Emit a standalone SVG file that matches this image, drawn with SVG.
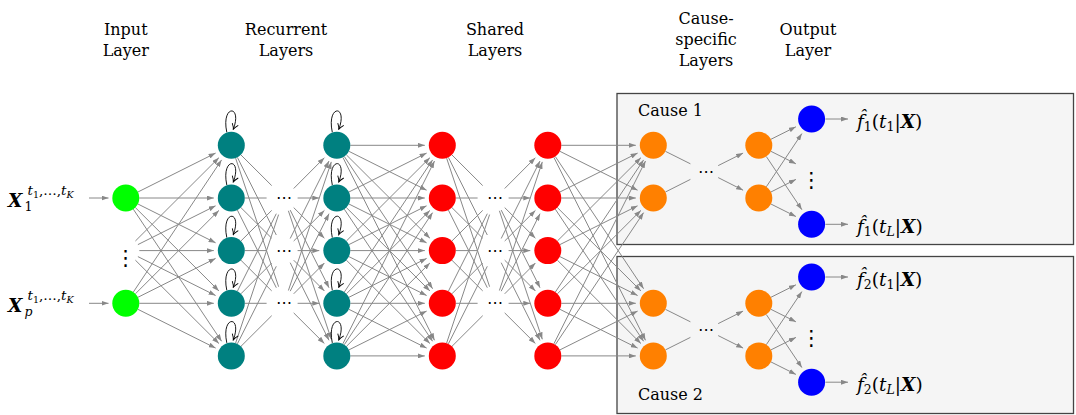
<svg xmlns="http://www.w3.org/2000/svg" width="1076" height="415" viewBox="0 0 1076 415">
<style>
.box{fill:#f5f5f5;stroke:#444;stroke-width:1.3}
.e{stroke:#888;stroke-width:1;fill:none;marker-end:url(#arr)}
.en{stroke:#888;stroke-width:1;fill:none}
.lp{stroke:#000;stroke-width:0.9;fill:none;marker-end:url(#la)}
.in{fill:#00ff00}.rc{fill:#008080}.sh{fill:#ff0000}.cs{fill:#ff8000}.out{fill:#0000ff}
.lbl{font-family:"DejaVu Serif",serif;font-size:16px;fill:#000;text-anchor:middle}
.cl{font-family:"DejaVu Serif",serif;font-size:16px;fill:#000}
.mt{font-family:"DejaVu Serif",serif;font-size:18.5px;fill:#000}
.sm{font-size:12.5px}
.ss{font-size:13.5px}
.xs{font-size:9.5px}
.it{font-style:italic}
.bi{font-style:italic;font-weight:bold}
.dots{font-family:"DejaVu Sans",sans-serif;font-size:16px;fill:#000;text-anchor:middle}
.vd{font-family:"DejaVu Sans",sans-serif;font-size:21px;fill:#000;text-anchor:middle}
</style>
<defs>
<marker id="arr" viewBox="0 0 7 5" refX="7" refY="2.5" markerWidth="7" markerHeight="5" markerUnits="userSpaceOnUse" orient="auto"><path d="M0,0 L7,2.5 L0,5 Z" fill="#888"/></marker>
<marker id="la" viewBox="0 0 8 8" refX="7" refY="4" markerWidth="8" markerHeight="8" markerUnits="userSpaceOnUse" orient="auto"><path d="M1.5,0.8 Q4.5,3.3 7,4 Q4.5,4.7 1.5,7.2" fill="none" stroke="#000" stroke-width="0.9"/></marker>
</defs>

<g id="cause1-box"><rect class="box" x="617" y="93.5" width="456.5" height="151"/><text class="cl" x="638" y="115.5">Cause 1</text></g>
<g id="cause2-box"><rect class="box" x="617" y="256.5" width="456.5" height="157"/><text class="cl" x="638" y="399.5">Cause 2</text></g>

<g id="headers">
<text class="lbl" x="125.8" y="34.5">Input</text><text class="lbl" x="125.8" y="56">Layer</text>
<text class="lbl" x="286" y="34.5">Recurrent</text><text class="lbl" x="286" y="56">Layers</text>
<text class="lbl" x="495" y="34.5">Shared</text><text class="lbl" x="495" y="56">Layers</text>
<text class="lbl" x="706" y="24">Cause-</text><text class="lbl" x="706" y="45">specific</text><text class="lbl" x="706" y="66">Layers</text>
<text class="lbl" x="808" y="34.5">Output</text><text class="lbl" x="808" y="56">Layer</text>
</g>

<g id="connectors">
<!-- input labels to input nodes -->
<line class="e" x1="89" y1="198" x2="108.5" y2="198"/>
<line class="e" x1="89" y1="303.3" x2="108.5" y2="303.3"/>
<!-- input -> recurrent 1 -->
<line class="e" x1="137.9" y1="192" x2="215.6" y2="153.1"/>
<line class="e" x1="139.3" y1="198" x2="213.8" y2="198"/>
<line class="e" x1="137.9" y1="204" x2="215.6" y2="242.8"/>
<line class="e" x1="135.4" y1="207.6" x2="218.9" y2="290.9"/>
<line class="e" x1="133.3" y1="209.2" x2="221.6" y2="341.3"/>
<line class="e" x1="135.4" y1="241" x2="218.9" y2="157.7"/>
<line class="e" x1="137.9" y1="244.6" x2="215.6" y2="205.8"/>
<line class="e" x1="139.3" y1="250.6" x2="213.8" y2="250.6"/>
<line class="e" x1="137.9" y1="256.6" x2="215.6" y2="295.5"/>
<line class="e" x1="135.4" y1="260.2" x2="218.9" y2="343.5"/>
<line class="e" x1="133.3" y1="292.1" x2="221.6" y2="159.9"/>
<line class="e" x1="135.4" y1="293.8" x2="218.9" y2="210.4"/>
<line class="e" x1="137.9" y1="297.3" x2="215.6" y2="258.4"/>
<line class="e" x1="139.3" y1="303.3" x2="213.8" y2="303.3"/>
<line class="e" x1="137.9" y1="309.3" x2="215.6" y2="348.1"/>
<!-- recurrent 1 -> dots -->
<line class="en" x1="240.9" y1="154.9" x2="271.7" y2="185.6"/>
<line class="en" x1="237.4" y1="157.4" x2="276.3" y2="235"/>
<line class="en" x1="235.6" y1="158.1" x2="278.6" y2="286.7"/>
<line class="en" x1="244.8" y1="198" x2="266.6" y2="198"/>
<line class="en" x1="240.9" y1="207.6" x2="271.7" y2="238.2"/>
<line class="en" x1="237.4" y1="210.1" x2="276.3" y2="287.7"/>
<line class="en" x1="240.9" y1="241" x2="271.7" y2="210.4"/>
<line class="en" x1="244.8" y1="250.6" x2="266.6" y2="250.6"/>
<line class="en" x1="240.9" y1="260.2" x2="271.7" y2="290.9"/>
<line class="en" x1="237.4" y1="291.2" x2="276.3" y2="213.7"/>
<line class="en" x1="240.9" y1="293.8" x2="271.7" y2="263"/>
<line class="en" x1="244.8" y1="303.3" x2="266.6" y2="303.3"/>
<line class="en" x1="235.6" y1="343.1" x2="278.6" y2="214.6"/>
<line class="en" x1="237.4" y1="343.8" x2="276.3" y2="266.3"/>
<line class="en" x1="240.9" y1="346.4" x2="271.7" y2="315.7"/>
<!-- dots -> recurrent 2 -->
<line class="e" x1="293.7" y1="188.5" x2="324.4" y2="157.7"/>
<line class="e" x1="297.6" y1="198" x2="319.3" y2="198"/>
<line class="e" x1="293.7" y1="207.6" x2="324.4" y2="238.2"/>
<line class="e" x1="290.2" y1="210.1" x2="329" y2="287.7"/>
<line class="e" x1="288.4" y1="210.8" x2="331.3" y2="339.3"/>
<line class="e" x1="290.2" y1="238.5" x2="329" y2="161"/>
<line class="e" x1="293.7" y1="241" x2="324.4" y2="210.4"/>
<line class="e" x1="297.6" y1="250.6" x2="319.3" y2="250.6"/>
<line class="e" x1="293.7" y1="260.2" x2="324.4" y2="290.9"/>
<line class="e" x1="290.2" y1="262.7" x2="329" y2="340.3"/>
<line class="e" x1="288.4" y1="290.5" x2="331.3" y2="161.9"/>
<line class="e" x1="290.2" y1="291.2" x2="329" y2="213.7"/>
<line class="e" x1="293.7" y1="293.8" x2="324.4" y2="263"/>
<line class="e" x1="297.6" y1="303.3" x2="319.3" y2="303.3"/>
<line class="e" x1="293.7" y1="312.9" x2="324.4" y2="343.5"/>
<!-- recurrent 2 -> shared 1 -->
<line class="e" x1="350.3" y1="145.3" x2="424.8" y2="145.3"/>
<line class="e" x1="348.9" y1="151.3" x2="426.6" y2="190.2"/>
<line class="e" x1="346.4" y1="154.9" x2="429.9" y2="238.2"/>
<line class="e" x1="344.3" y1="156.5" x2="432.6" y2="288.7"/>
<line class="e" x1="342.9" y1="157.4" x2="434.5" y2="340.3"/>
<line class="e" x1="348.9" y1="192" x2="426.6" y2="153.1"/>
<line class="e" x1="350.3" y1="198" x2="424.8" y2="198"/>
<line class="e" x1="348.9" y1="204" x2="426.6" y2="242.8"/>
<line class="e" x1="346.4" y1="207.6" x2="429.9" y2="290.9"/>
<line class="e" x1="344.3" y1="209.2" x2="432.6" y2="341.3"/>
<line class="e" x1="346.4" y1="241" x2="429.9" y2="157.7"/>
<line class="e" x1="348.9" y1="244.6" x2="426.6" y2="205.8"/>
<line class="e" x1="350.3" y1="250.6" x2="424.8" y2="250.6"/>
<line class="e" x1="348.9" y1="256.6" x2="426.6" y2="295.5"/>
<line class="e" x1="346.4" y1="260.2" x2="429.9" y2="343.5"/>
<line class="e" x1="344.3" y1="292.1" x2="432.6" y2="159.9"/>
<line class="e" x1="346.4" y1="293.8" x2="429.9" y2="210.4"/>
<line class="e" x1="348.9" y1="297.3" x2="426.6" y2="258.4"/>
<line class="e" x1="350.3" y1="303.3" x2="424.8" y2="303.3"/>
<line class="e" x1="348.9" y1="309.3" x2="426.6" y2="348.1"/>
<line class="e" x1="342.9" y1="343.8" x2="434.5" y2="161"/>
<line class="e" x1="344.3" y1="344.7" x2="432.6" y2="212.6"/>
<line class="e" x1="346.4" y1="346.4" x2="429.9" y2="263"/>
<line class="e" x1="348.9" y1="349.9" x2="426.6" y2="311.1"/>
<line class="e" x1="350.3" y1="355.9" x2="424.8" y2="355.9"/>
<!-- shared 1 -> dots -->
<line class="en" x1="451.9" y1="154.9" x2="482.7" y2="185.6"/>
<line class="en" x1="448.4" y1="157.4" x2="487.3" y2="235"/>
<line class="en" x1="446.6" y1="158.1" x2="489.6" y2="286.7"/>
<line class="en" x1="455.8" y1="198" x2="477.6" y2="198"/>
<line class="en" x1="451.9" y1="207.6" x2="482.7" y2="238.2"/>
<line class="en" x1="448.4" y1="210.1" x2="487.3" y2="287.7"/>
<line class="en" x1="451.9" y1="241" x2="482.7" y2="210.4"/>
<line class="en" x1="455.8" y1="250.6" x2="477.6" y2="250.6"/>
<line class="en" x1="451.9" y1="260.2" x2="482.7" y2="290.9"/>
<line class="en" x1="448.4" y1="291.2" x2="487.3" y2="213.7"/>
<line class="en" x1="451.9" y1="293.8" x2="482.7" y2="263"/>
<line class="en" x1="455.8" y1="303.3" x2="477.6" y2="303.3"/>
<line class="en" x1="446.6" y1="343.1" x2="489.6" y2="214.6"/>
<line class="en" x1="448.4" y1="343.8" x2="487.3" y2="266.3"/>
<line class="en" x1="451.9" y1="346.4" x2="482.7" y2="315.7"/>
<!-- dots -> shared 2 -->
<line class="e" x1="504.7" y1="188.5" x2="535.4" y2="157.7"/>
<line class="e" x1="508.6" y1="198" x2="530.3" y2="198"/>
<line class="e" x1="504.7" y1="207.6" x2="535.4" y2="238.2"/>
<line class="e" x1="501.2" y1="210.1" x2="540" y2="287.7"/>
<line class="e" x1="499.4" y1="210.8" x2="542.3" y2="339.3"/>
<line class="e" x1="501.2" y1="238.5" x2="540" y2="161"/>
<line class="e" x1="504.7" y1="241" x2="535.4" y2="210.4"/>
<line class="e" x1="508.6" y1="250.6" x2="530.3" y2="250.6"/>
<line class="e" x1="504.7" y1="260.2" x2="535.4" y2="290.9"/>
<line class="e" x1="501.2" y1="262.7" x2="540" y2="340.3"/>
<line class="e" x1="499.4" y1="290.5" x2="542.3" y2="161.9"/>
<line class="e" x1="501.2" y1="291.2" x2="540" y2="213.7"/>
<line class="e" x1="504.7" y1="293.8" x2="535.4" y2="263"/>
<line class="e" x1="508.6" y1="303.3" x2="530.3" y2="303.3"/>
<line class="e" x1="504.7" y1="312.9" x2="535.4" y2="343.5"/>
<!-- shared 2 -> cause-specific -->
<line class="e" x1="561.3" y1="145.3" x2="635.8" y2="145.3"/>
<line class="e" x1="559.9" y1="151.3" x2="637.6" y2="190.2"/>
<line class="e" x1="555.3" y1="156.5" x2="643.6" y2="288.7"/>
<line class="e" x1="553.9" y1="157.4" x2="645.5" y2="340.3"/>
<line class="e" x1="559.9" y1="192" x2="637.6" y2="153.1"/>
<line class="e" x1="561.3" y1="198" x2="635.8" y2="198"/>
<line class="e" x1="557.4" y1="207.6" x2="640.9" y2="290.9"/>
<line class="e" x1="555.3" y1="209.2" x2="643.6" y2="341.3"/>
<line class="e" x1="557.4" y1="241" x2="640.9" y2="157.7"/>
<line class="e" x1="559.9" y1="244.6" x2="637.6" y2="205.8"/>
<line class="e" x1="559.9" y1="256.6" x2="637.6" y2="295.5"/>
<line class="e" x1="557.4" y1="260.2" x2="640.9" y2="343.5"/>
<line class="e" x1="555.3" y1="292.1" x2="643.6" y2="159.9"/>
<line class="e" x1="557.4" y1="293.8" x2="640.9" y2="210.4"/>
<line class="e" x1="561.3" y1="303.3" x2="635.8" y2="303.3"/>
<line class="e" x1="559.9" y1="309.3" x2="637.6" y2="348.1"/>
<line class="e" x1="553.9" y1="343.8" x2="645.5" y2="161"/>
<line class="e" x1="555.3" y1="344.7" x2="643.6" y2="212.6"/>
<line class="e" x1="559.9" y1="349.9" x2="637.6" y2="311.1"/>
<line class="e" x1="561.3" y1="355.9" x2="635.8" y2="355.9"/>
<!-- cause 1 internal -->
<line class="en" x1="665.4" y1="151.3" x2="690.4" y2="163.8"/>
<line class="en" x1="665.4" y1="192" x2="690.4" y2="179.4"/>
<line class="e" x1="718.2" y1="165.6" x2="743.1" y2="153.1"/>
<line class="e" x1="718.2" y1="177.6" x2="743.1" y2="190.2"/>
<line class="e" x1="770.9" y1="139.3" x2="795.9" y2="126.8"/>
<line class="e" x1="770.9" y1="151.3" x2="795.9" y2="163.8"/>
<line class="e" x1="766.3" y1="156.5" x2="801.9" y2="209.7"/>
<line class="e" x1="766.3" y1="186.8" x2="801.9" y2="133.6"/>
<line class="e" x1="770.9" y1="192" x2="795.9" y2="179.4"/>
<line class="e" x1="770.9" y1="204" x2="795.9" y2="216.5"/>
<!-- cause 2 internal -->
<line class="en" x1="665.4" y1="309.3" x2="690.4" y2="321.8"/>
<line class="en" x1="665.4" y1="349.9" x2="690.4" y2="337.4"/>
<line class="e" x1="718.2" y1="323.6" x2="743.1" y2="311.1"/>
<line class="e" x1="718.2" y1="335.6" x2="743.1" y2="348.1"/>
<line class="e" x1="770.9" y1="297.3" x2="795.9" y2="284.8"/>
<line class="e" x1="770.9" y1="309.3" x2="795.9" y2="321.8"/>
<line class="e" x1="766.3" y1="314.5" x2="801.9" y2="367.6"/>
<line class="e" x1="766.3" y1="344.7" x2="801.9" y2="291.6"/>
<line class="e" x1="770.9" y1="349.9" x2="795.9" y2="337.4"/>
<line class="e" x1="770.9" y1="361.9" x2="795.9" y2="374.4"/>
<!-- outputs to labels -->
<line class="e" x1="825.5" y1="119" x2="848" y2="119"/>
<line class="e" x1="825.5" y1="224.3" x2="848" y2="224.3"/>
<line class="e" x1="825.5" y1="277" x2="848" y2="277"/>
<line class="e" x1="825.5" y1="382.2" x2="848" y2="382.2"/>
<!-- recurrent self loops -->
<path class="lp" d="M226.8,132.3 C220.8,104.3 242.8,104.3 233.3,129.3"/>
<path class="lp" d="M226.8,185 C220.8,157 242.8,157 233.3,182"/>
<path class="lp" d="M226.8,237.6 C220.8,209.6 242.8,209.6 233.3,234.6"/>
<path class="lp" d="M226.8,290.3 C220.8,262.3 242.8,262.3 233.3,287.3"/>
<path class="lp" d="M226.8,342.9 C220.8,314.9 242.8,314.9 233.3,339.9"/>
<path class="lp" d="M332.3,132.3 C326.3,104.3 348.3,104.3 338.8,129.3"/>
<path class="lp" d="M332.3,185 C326.3,157 348.3,157 338.8,182"/>
<path class="lp" d="M332.3,237.6 C326.3,209.6 348.3,209.6 338.8,234.6"/>
<path class="lp" d="M332.3,290.3 C326.3,262.3 348.3,262.3 338.8,287.3"/>
<path class="lp" d="M332.3,342.9 C326.3,314.9 348.3,314.9 338.8,339.9"/>
</g>

<g id="input-layer">
<g id="in-1"><circle class="in" cx="125.8" cy="198" r="13.5"/></g>
<g id="in-dots"><text class="vd" x="125.8" y="265">⋮</text></g>
<g id="in-p"><circle class="in" cx="125.8" cy="303.3" r="13.5"/></g>
<g id="in-label-1"><text class="mt" x="8" y="207"><tspan class="bi">X</tspan></text><text class="mt sm" x="24.5" y="211">1</text><text class="mt ss it" x="27.5" y="195">t<tspan class="xs" dy="2.5" font-style="normal">1</tspan><tspan dy="-2.5" font-style="normal">,…,</tspan>t<tspan class="xs" dy="2.5">K</tspan></text></g>
<g id="in-label-p"><text class="mt" x="8" y="312.3"><tspan class="bi">X</tspan></text><text class="mt sm it" x="24.5" y="316.3">p</text><text class="mt ss it" x="27.5" y="300.3">t<tspan class="xs" dy="2.5" font-style="normal">1</tspan><tspan dy="-2.5" font-style="normal">,…,</tspan>t<tspan class="xs" dy="2.5">K</tspan></text></g>
</g>

<g id="recurrent-layer-1">
<g id="r1-1"><circle class="rc" cx="231.3" cy="145.3" r="13.5"/></g>
<g id="r1-2"><circle class="rc" cx="231.3" cy="198" r="13.5"/></g>
<g id="r1-3"><circle class="rc" cx="231.3" cy="250.6" r="13.5"/></g>
<g id="r1-4"><circle class="rc" cx="231.3" cy="303.3" r="13.5"/></g>
<g id="r1-5"><circle class="rc" cx="231.3" cy="355.9" r="13.5"/></g>
</g>
<g id="recurrent-dots">
<g id="rd-1"><text class="dots" x="284.1" y="203">⋯</text></g>
<g id="rd-2"><text class="dots" x="284.1" y="255.6">⋯</text></g>
<g id="rd-3"><text class="dots" x="284.1" y="308.3">⋯</text></g>
</g>
<g id="recurrent-layer-2">
<g id="r2-1"><circle class="rc" cx="336.8" cy="145.3" r="13.5"/></g>
<g id="r2-2"><circle class="rc" cx="336.8" cy="198" r="13.5"/></g>
<g id="r2-3"><circle class="rc" cx="336.8" cy="250.6" r="13.5"/></g>
<g id="r2-4"><circle class="rc" cx="336.8" cy="303.3" r="13.5"/></g>
<g id="r2-5"><circle class="rc" cx="336.8" cy="355.9" r="13.5"/></g>
</g>
<g id="shared-layer-1">
<g id="s1-1"><circle class="sh" cx="442.3" cy="145.3" r="13.5"/></g>
<g id="s1-2"><circle class="sh" cx="442.3" cy="198" r="13.5"/></g>
<g id="s1-3"><circle class="sh" cx="442.3" cy="250.6" r="13.5"/></g>
<g id="s1-4"><circle class="sh" cx="442.3" cy="303.3" r="13.5"/></g>
<g id="s1-5"><circle class="sh" cx="442.3" cy="355.9" r="13.5"/></g>
</g>
<g id="shared-dots">
<g id="sd-1"><text class="dots" x="495.1" y="203">⋯</text></g>
<g id="sd-2"><text class="dots" x="495.1" y="255.6">⋯</text></g>
<g id="sd-3"><text class="dots" x="495.1" y="308.3">⋯</text></g>
</g>
<g id="shared-layer-2">
<g id="s2-1"><circle class="sh" cx="547.8" cy="145.3" r="13.5"/></g>
<g id="s2-2"><circle class="sh" cx="547.8" cy="198" r="13.5"/></g>
<g id="s2-3"><circle class="sh" cx="547.8" cy="250.6" r="13.5"/></g>
<g id="s2-4"><circle class="sh" cx="547.8" cy="303.3" r="13.5"/></g>
<g id="s2-5"><circle class="sh" cx="547.8" cy="355.9" r="13.5"/></g>
</g>

<g id="cause-1">
<g id="c1-a1"><circle class="cs" cx="653.3" cy="145.3" r="13.5"/></g>
<g id="c1-a2"><circle class="cs" cx="653.3" cy="198" r="13.5"/></g>
<g id="c1-dots"><text class="dots" x="706.1" y="176.6">⋯</text></g>
<g id="c1-b1"><circle class="cs" cx="758.8" cy="145.3" r="13.5"/></g>
<g id="c1-b2"><circle class="cs" cx="758.8" cy="198" r="13.5"/></g>
<g id="o1-1"><circle class="out" cx="811.6" cy="119" r="13.5"/></g>
<g id="o1-dots"><text class="vd" x="811.6" y="187">⋮</text></g>
<g id="o1-L"><circle class="out" cx="811.6" cy="224.3" r="13.5"/></g>
<g id="f1-1"><text class="mt" x="857" y="127.5"><tspan class="it">f̂</tspan><tspan class="sm" dy="3.5">1</tspan><tspan dy="-3.5">(</tspan><tspan class="it">t</tspan><tspan class="sm" dy="3.5">1</tspan><tspan dy="-3.5">|</tspan><tspan class="bi">X</tspan>)</text></g>
<g id="f1-L"><text class="mt" x="857" y="232.8"><tspan class="it">f̂</tspan><tspan class="sm" dy="3.5">1</tspan><tspan dy="-3.5">(</tspan><tspan class="it">t</tspan><tspan class="sm it" dy="3.5">L</tspan><tspan dy="-3.5">|</tspan><tspan class="bi">X</tspan>)</text></g>
</g>

<g id="cause-2">
<g id="c2-a1"><circle class="cs" cx="653.3" cy="303.3" r="13.5"/></g>
<g id="c2-a2"><circle class="cs" cx="653.3" cy="355.9" r="13.5"/></g>
<g id="c2-dots"><text class="dots" x="706.1" y="334.6">⋯</text></g>
<g id="c2-b1"><circle class="cs" cx="758.8" cy="303.3" r="13.5"/></g>
<g id="c2-b2"><circle class="cs" cx="758.8" cy="355.9" r="13.5"/></g>
<g id="o2-1"><circle class="out" cx="811.6" cy="277" r="13.5"/></g>
<g id="o2-dots"><text class="vd" x="811.6" y="345">⋮</text></g>
<g id="o2-L"><circle class="out" cx="811.6" cy="382.2" r="13.5"/></g>
<g id="f2-1"><text class="mt" x="857" y="285.5"><tspan class="it">f̂</tspan><tspan class="sm" dy="3.5">2</tspan><tspan dy="-3.5">(</tspan><tspan class="it">t</tspan><tspan class="sm" dy="3.5">1</tspan><tspan dy="-3.5">|</tspan><tspan class="bi">X</tspan>)</text></g>
<g id="f2-L"><text class="mt" x="857" y="390.7"><tspan class="it">f̂</tspan><tspan class="sm" dy="3.5">2</tspan><tspan dy="-3.5">(</tspan><tspan class="it">t</tspan><tspan class="sm it" dy="3.5">L</tspan><tspan dy="-3.5">|</tspan><tspan class="bi">X</tspan>)</text></g>
</g>
</svg>
